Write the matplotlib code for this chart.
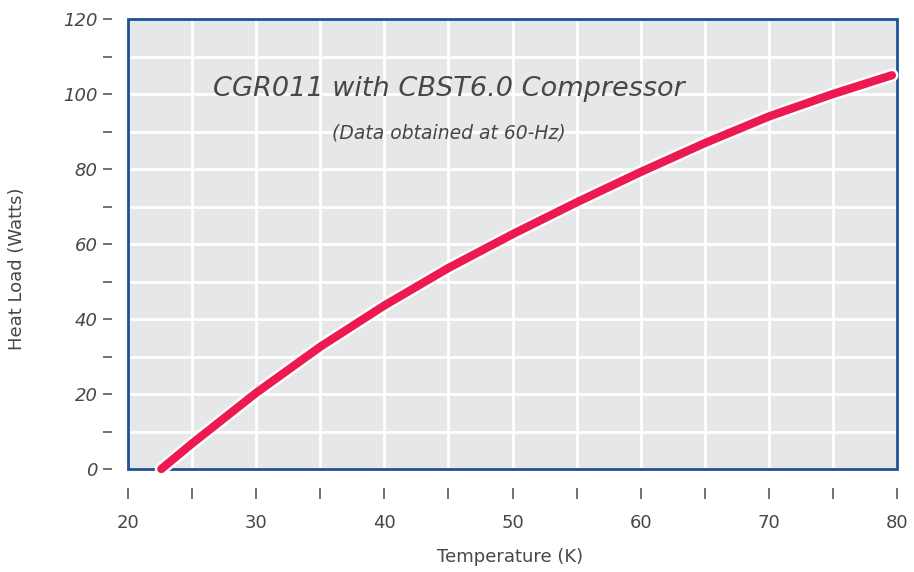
import matplotlib
matplotlib.use('Agg')
import matplotlib.pyplot as plt
import matplotlib.patheffects as pe
from matplotlib.patches import Rectangle
from matplotlib.ticker import MultipleLocator, NullFormatter

# Heat load curve
temperature_k = [22.6, 25, 30, 35, 40, 45, 50, 55, 60, 65, 70, 75, 79.6]
heat_load_w = [0, 6.8, 20.3, 32.6, 43.6, 53.6, 62.6, 71.1, 79.2, 86.9, 94.0, 100.0, 105.0]

title_text = 'CGR011 with CBST6.0 Compressor'
subtitle_text = '(Data obtained at 60-Hz)'
x_label = 'Temperature (K)'
y_label = 'Heat Load (Watts)'

text_col = '#474747'
tick_col = '#666666'
frame_col = '#1F5096'
curve_col = '#EC1A50'

plt.rcParams['font.family'] = ['DejaVu Sans']

fig = plt.figure(figsize=(9.14, 5.72), dpi=100)
ax = fig.add_axes([128 / 914, 1 - 469 / 572, 769 / 914, 450 / 572])
ax.set_facecolor('#E6E7E9')

ax.set_xlim(20, 80)
ax.set_ylim(0, 120)

# ticks: labelled majors plus unlabelled minors, same length
ax.xaxis.set_major_locator(MultipleLocator(10))
ax.xaxis.set_minor_locator(MultipleLocator(5))
ax.yaxis.set_major_locator(MultipleLocator(20))
ax.yaxis.set_minor_locator(MultipleLocator(10))
ax.xaxis.set_minor_formatter(NullFormatter())
ax.yaxis.set_minor_formatter(NullFormatter())

ax.grid(True, which='both', color='white', linewidth=2.0, zorder=1)
ax.set_axisbelow(True)

# ticks sit away from the frame
for side in ['top', 'right']:
    ax.spines[side].set_visible(False)
ax.spines['left'].set_position(('outward', 11.5))
ax.spines['bottom'].set_position(('outward', 13.7))
ax.spines['left'].set_visible(False)
ax.spines['bottom'].set_visible(False)

ax.tick_params(axis='x', which='both', direction='out', length=8, width=1.3,
               color=tick_col, pad=11, labelsize=13, labelcolor=text_col)
ax.tick_params(axis='y', which='both', direction='out', length=6.5, width=1.3,
               color=tick_col, pad=4, labelsize=13, labelcolor=text_col)
for lab in ax.get_yticklabels():
    lab.set_fontstyle('italic')

# blue frame round the plot area
ax.add_patch(Rectangle((0, 0), 1, 1, transform=ax.transAxes, fill=False,
                       edgecolor=frame_col, linewidth=2.0, clip_on=False, zorder=2.5))

line, = ax.plot(temperature_k, heat_load_w, color=curve_col, linewidth=6,
                solid_capstyle='round', solid_joinstyle='round', zorder=3, clip_on=False)
line.set_path_effects([pe.Stroke(linewidth=9.5, foreground='white'), pe.Normal()])

ax.text(0.417, 0.844, title_text, transform=ax.transAxes, ha='center', va='center',
        fontsize=19.5, fontstyle='italic', color=text_col, zorder=4)
ax.text(0.417, 0.747, subtitle_text, transform=ax.transAxes, ha='center', va='center',
        fontsize=13.5, fontstyle='italic', color=text_col, zorder=4)

fig.text(510 / 914, 1 - 557 / 572, x_label, ha='center', va='center',
         fontsize=13, color=text_col)
fig.text(17 / 914, 1 - 269 / 572, y_label, ha='center', va='center',
         rotation=90, fontsize=13, color=text_col)

fig.savefig('out.png', dpi=100)
